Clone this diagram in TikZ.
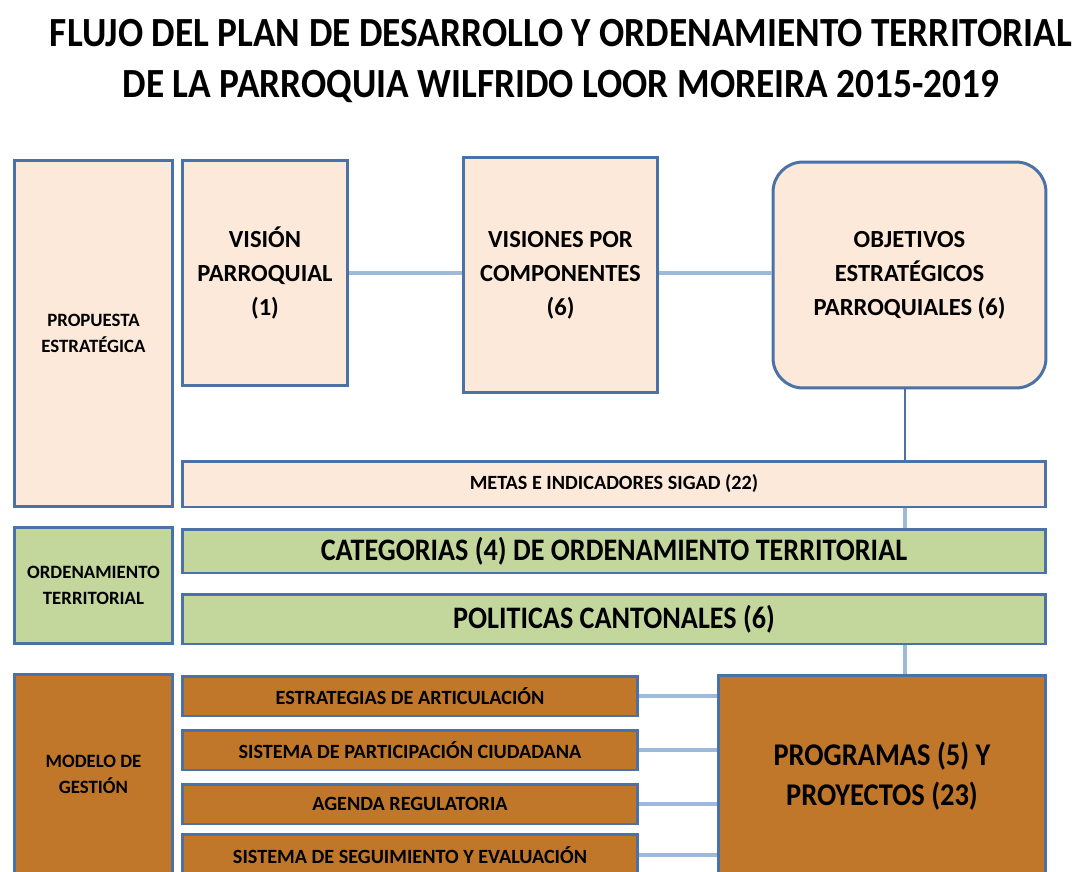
\documentclass[tikz,border=0pt]{standalone}
\usepackage{fontspec}
\setmainfont{Carlito}
\newfontfamily\angosta[FakeStretch=0.9]{Carlito}
\definecolor{borde}{HTML}{4A72A6}
\definecolor{enlace}{HTML}{9DB9DC}
\definecolor{durazno}{HTML}{FDE9D9}
\definecolor{verde}{HTML}{C3D69B}
\definecolor{cafe}{HTML}{C0772A}
\tikzset{
  caja/.style={draw=borde, line width=1.7pt, align=center, inner sep=2pt, font=\bfseries},
  enlace/.style={draw=enlace, line width=2.2pt},
}
\begin{document}
\begin{tikzpicture}[x=0.02cm, y=-0.02cm]
    \useasboundingbox (0,0) rectangle (1080,872);
    \clip (0,0) rectangle (1080,872);
    \node[align=center, font=\angosta\fontsize{23.6}{29}\selectfont\bfseries] (titulo) at (561,61)
        {FLUJO DEL PLAN DE DESARROLLO Y ORDENAMIENTO TERRITORIAL\\DE LA PARROQUIA WILFRIDO LOOR MOREIRA 2015-2019};
    % propuesta estrategica
    \node[caja, fill=durazno, minimum width=3.18cm, minimum height=6.94cm, font=\fontsize{10.7}{15}\selectfont\bfseries] (propuesta) at (93.5,333.5) {PROPUESTA\\ESTRATÉGICA};
    \node[caja, fill=durazno, minimum width=3.32cm, minimum height=4.52cm, font=\fontsize{14}{19.3}\selectfont\bfseries] (vision) at (265,273) {VISIÓN\\PARROQUIAL\\(1)};
    \node[caja, fill=durazno, minimum width=3.9cm, minimum height=4.7cm, font=\fontsize{14}{19.3}\selectfont\bfseries] (visiones) at (560.5,275) {VISIONES POR\\COMPONENTES\\(6)};
    \node[caja, fill=durazno, rounded corners=0.6cm, minimum width=5.46cm, minimum height=4.52cm, font=\fontsize{14}{19.3}\selectfont\bfseries] (objetivos) at (909.5,275) {OBJETIVOS\\ESTRATÉGICOS\\PARROQUIALES (6)};
    \node[caja, fill=durazno, minimum width=17.28cm, minimum height=0.92cm, font=\fontsize{11.5}{12}\selectfont\bfseries] (metas) at (614,484) {METAS E INDICADORES SIGAD (22)};
    % ordenamiento territorial
    \node[caja, fill=verde, minimum width=3.18cm, minimum height=2.34cm, font=\fontsize{10.7}{15}\selectfont\bfseries] (ordenamiento) at (93.5,585.5) {ORDENAMIENTO\\TERRITORIAL};
    \node[caja, fill=verde, minimum width=17.28cm, minimum height=0.88cm, font=\angosta\fontsize{17.8}{20}\selectfont\bfseries] (categorias) at (614,551) {CATEGORIAS (4) DE ORDENAMIENTO TERRITORIAL};
    \node[caja, fill=verde, minimum width=17.28cm, minimum height=1cm, font=\angosta\fontsize{17.8}{20}\selectfont\bfseries] (politicas) at (614,619) {POLITICAS CANTONALES (6)};
    % modelo de gestion
    \node[caja, fill=cafe, minimum width=3.18cm, minimum height=4.02cm, font=\fontsize{10.7}{15}\selectfont\bfseries] (modelo) at (93.5,774.5) {MODELO DE\\GESTIÓN};
    \node[caja, fill=cafe, minimum width=9.12cm, minimum height=0.8cm, font=\fontsize{11.5}{12}\selectfont\bfseries] (estrategias) at (410,696) {ESTRATEGIAS DE ARTICULACIÓN};
    \node[caja, fill=cafe, minimum width=9.12cm, minimum height=0.8cm, font=\fontsize{11.5}{12}\selectfont\bfseries] (participacion) at (410,750) {SISTEMA DE PARTICIPACIÓN CIUDADANA};
    \node[caja, fill=cafe, minimum width=9.12cm, minimum height=0.8cm, font=\fontsize{11.5}{12}\selectfont\bfseries] (agenda) at (410,804) {AGENDA REGULATORIA};
    \node[caja, fill=cafe, minimum width=9.12cm, minimum height=0.84cm, font=\fontsize{11.5}{12}\selectfont\bfseries] (seguimiento) at (410,855) {SISTEMA DE SEGUIMIENTO Y EVALUACIÓN};
    \node[caja, fill=cafe, minimum width=6.56cm, minimum height=4.02cm, font=\angosta\fontsize{18}{23}\selectfont\bfseries] (programas) at (882,776) {PROGRAMAS (5) Y\\PROYECTOS (23)};
    % conectores
    \coordinate (eje) at (905,0);
    \draw[enlace] (vision.east) -- (vision.east -| visiones.west);
    \draw[enlace] (visiones.east |- vision.east) -- (vision.east -| objetivos.west);
    \draw[borde, line width=1.2pt] (eje |- objetivos.south) -- (eje |- metas.north);
    \draw[enlace] (eje |- metas.south) -- (eje |- categorias.north);
    \draw[enlace] (eje |- politicas.south) -- (eje |- programas.north);
    \foreach \n in {estrategias, participacion, agenda, seguimiento}
        \draw[enlace] (\n.east) -- (\n.east -| programas.west);
\end{tikzpicture}
\end{document}
